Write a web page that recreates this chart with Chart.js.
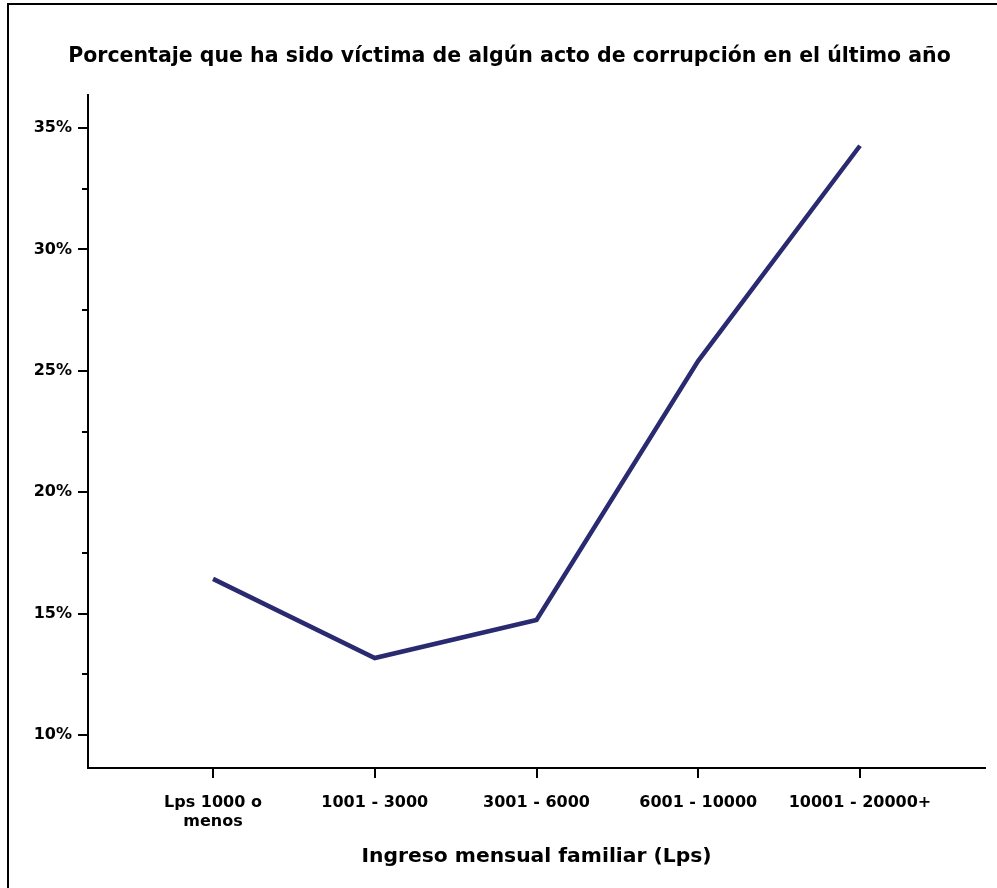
<!DOCTYPE html>
<html>
<head>
<meta charset="utf-8">
<script src="https://cdn.jsdelivr.net/npm/chart.js@4"></script>
<style>
  body { margin: 0; background: #fff; }
  #wrap { position: absolute; left: 0; top: 0; width: 997px; height: 888px; }
  #frame { position: absolute; left: 7px; top: 3px; width: 1000px; height: 900px;
           border-left: 2px solid #000; border-top: 2px solid #000; pointer-events: none; }
</style>
</head>
<body>
<div id="wrap"><canvas id="myChart" width="997" height="888"></canvas></div>
<div id="frame"></div>
<script>
// data
var incomeLabels = [["Lps 1000 o", "menos"], "1001 - 3000", "3001 - 6000", "6001 - 10000", "10001 - 20000+"];
var victimPct = [16.43, 13.17, 14.74, 25.41, 34.27];
var yTicks = [10, 15, 20, 25, 30, 35];
var yMinorTicks = [12.5, 17.5, 22.5, 27.5, 32.5];

var points = [];
for (var i = 0; i < victimPct.length; i++) {
    points.push({x: i, y: victimPct[i]});
}

var FONT = "'DejaVu Sans', 'Liberation Sans', sans-serif";

// short minor ticks on the y axis
var minorTickPlugin = {
    id: "minorTicks",
    afterDraw: function(chart) {
        var ctx = chart.ctx;
        var yScale = chart.scales.y;
        var left = chart.chartArea.left;
        ctx.save();
        ctx.strokeStyle = "#000";
        ctx.lineWidth = 2;
        yMinorTicks.forEach(function(v) {
            var py = Math.round(yScale.getPixelForValue(v));
            ctx.beginPath();
            ctx.moveTo(left - 6, py);
            ctx.lineTo(left, py);
            ctx.stroke();
        });
        ctx.restore();
    }
};

var context = document.getElementById("myChart").getContext("2d");
var myChart = new Chart(context, {
    type: "line",
    data: {
        datasets: [{
            data: points,
            borderColor: "#2a2a70",
            backgroundColor: "#2a2a70",
            borderWidth: 4.5,
            pointRadius: 0,
            tension: 0,
            fill: false
        }]
    },
    options: {
        responsive: false,
        animation: false,
        layout: { padding: { left: 34, right: 12, top: 0, bottom: 0 } },
        plugins: {
            legend: { display: false },
            tooltip: { enabled: false },
            title: {
                display: true,
                text: "Porcentaje que ha sido víctima de algún acto de corrupción en el último año",
                color: "#000",
                font: { family: FONT, size: 20.5, weight: "bold" },
                padding: { top: 44, bottom: 26.4 }
            }
        },
        scales: {
            x: {
                type: "linear",
                min: -0.773,
                max: 4.773,
                afterBuildTicks: function(scale) {
                    scale.ticks = incomeLabels.map(function(l, i) { return {value: i}; });
                },
                afterFit: function(scale) { scale.height = 120; },
                ticks: {
                    color: "#000",
                    font: { family: FONT, size: 16, weight: "bold" },
                    padding: 15,
                    maxRotation: 0,
                    autoSkip: false,
                    callback: function(value) { return incomeLabels[value]; }
                },
                grid: { drawOnChartArea: false, drawTicks: true, tickLength: 10, color: "#000", lineWidth: 2 },
                border: { display: true, color: "#000", width: 2 },
                title: {
                    display: true,
                    text: "Ingreso mensual familiar (Lps)",
                    color: "#000",
                    font: { family: FONT, size: 20.3, weight: "bold" },
                    padding: { top: 0, bottom: 19 }
                }
            },
            y: {
                min: 8.64,
                max: 36.36,
                afterBuildTicks: function(scale) {
                    scale.ticks = yTicks.map(function(v) { return {value: v}; });
                },
                afterFit: function(scale) { scale.width = 54; },
                ticks: {
                    color: "#000",
                    font: { family: FONT, size: 16, weight: "bold" },
                    padding: 6,
                    callback: function(value) { return value + "%"; }
                },
                grid: { drawOnChartArea: false, drawTicks: true, tickLength: 10, color: "#000", lineWidth: 2 },
                border: { display: true, color: "#000", width: 2 }
            }
        }
    },
    plugins: [minorTickPlugin]
});
</script>
</body>
</html>
